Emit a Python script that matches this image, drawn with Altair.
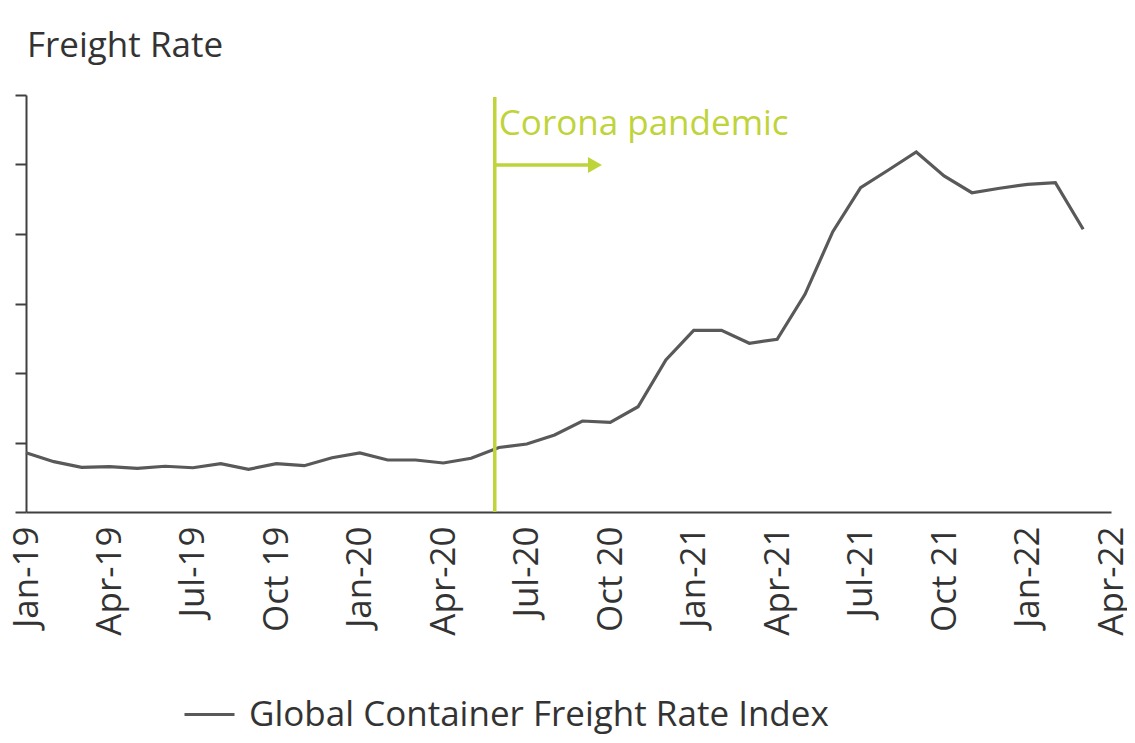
import altair as alt
import pandas as pd

# Monthly index values, Jan-2019 .. Mar-2022
months = ["2019-01", "2019-02", "2019-03", "2019-04", "2019-05", "2019-06",
          "2019-07", "2019-08", "2019-09", "2019-10", "2019-11", "2019-12",
          "2020-01", "2020-02", "2020-03", "2020-04", "2020-05", "2020-06",
          "2020-07", "2020-08", "2020-09", "2020-10", "2020-11", "2020-12",
          "2021-01", "2021-02", "2021-03", "2021-04", "2021-05", "2021-06",
          "2021-07", "2021-08", "2021-09", "2021-10", "2021-11", "2021-12",
          "2022-01", "2022-02", "2022-03"]
values = [853, 724, 643, 652, 629, 658, 637, 695, 614, 695, 666, 781,
          849, 748, 748, 705, 773, 928, 978, 1108, 1309, 1291, 1515, 2187,
          2614, 2614, 2427, 2485, 3132, 4033, 4666, 4921, 5180, 4835, 4594,
          4658, 4715, 4738, 4068]
tick_labels = ["Jan-19", "Apr-19", "Jul-19", "Oct 19", "Jan-20", "Apr-20",
               "Jul-20", "Oct 20", "Jan-21", "Apr-21", "Jul-21", "Oct 21",
               "Jan-22", "Apr-22"]
series_name = "Global Container Freight Rate Index"

# pandemic marker (month index position) and annotation
pandemic_x = [16.85]
pandemic_top = [5970]
arrow_x = [16.85]
arrow_x2 = [20.2]
arrow_y = [4993]
arrow_head_x = [20.45]
label_text = ["Corona pandemic"]
label_y = [5424]

FONT = "Open Sans"
GREEN = "#bfd33a"
LINE = "#595959"
AXIS = "#404040"

df = pd.DataFrame({
    "idx": list(range(len(values))),
    "month": months,
    "value": values,
    "series": [series_name] * len(values),
})

label_expr = "[" + ",".join("'%s'" % t for t in tick_labels) + "][round(datum.value/3)]"

x_scale = alt.Scale(domain=[0, 39], nice=False, zero=False)
y_scale = alt.Scale(domain=[0, 6000], nice=False)

line = alt.Chart(df).mark_line(strokeWidth=3.2).encode(
    x=alt.X("idx:Q", scale=x_scale,
            axis=alt.Axis(values=list(range(0, 40, 3)), labelExpr=label_expr,
                          labelAngle=-90, labelAlign="right", labelBaseline="middle",
                          labelFont=FONT, labelFontSize=35, labelColor="#333333",
                          labelPadding=14, ticks=False, grid=False, title=None,
                          domainColor=AXIS, domainWidth=2, labelOverlap=False,
                          labelFlush=False)),
    y=alt.Y("value:Q", scale=y_scale,
            axis=alt.Axis(values=list(range(0, 7000, 1000)), labels=False,
                          ticks=True, tickSize=11, tickColor=AXIS, tickWidth=2,
                          domainColor=AXIS, domainWidth=2, grid=False, title=None)),
    color=alt.Color("series:N", scale=alt.Scale(range=[LINE]),
                    legend=alt.Legend(title=None, orient="none", legendX=157, legendY=593,
                                      symbolType="stroke", symbolSize=2500,
                                      symbolStrokeWidth=3, labelFont=FONT,
                                      labelFontSize=35, labelColor="#333333",
                                      labelOffset=13, labelLimit=800)),
)

marker_df = pd.DataFrame({"x": pandemic_x, "y0": [0], "y1": pandemic_top})
marker = alt.Chart(marker_df).mark_rule(color=GREEN, strokeWidth=3.5).encode(
    x=alt.X("x:Q", scale=x_scale), y=alt.Y("y0:Q", scale=y_scale), y2="y1:Q")

arrow_df = pd.DataFrame({"x": arrow_x, "x2": arrow_x2, "y": arrow_y})
arrow = alt.Chart(arrow_df).mark_rule(color=GREEN, strokeWidth=3.5).encode(
    x=alt.X("x:Q", scale=x_scale), x2="x2:Q", y=alt.Y("y:Q", scale=y_scale))

head_df = pd.DataFrame({"x": arrow_head_x, "y": arrow_y})
head = alt.Chart(head_df).mark_point(shape="triangle-right", filled=True, size=260,
                                     color=GREEN, opacity=1).encode(
    x=alt.X("x:Q", scale=x_scale), y=alt.Y("y:Q", scale=y_scale))

text_df = pd.DataFrame({"x": pandemic_x, "y": label_y, "t": label_text})
text = alt.Chart(text_df).mark_text(align="left", baseline="alphabetic", dx=4,
                                    font=FONT, fontSize=35, color=GREEN).encode(
    x=alt.X("x:Q", scale=x_scale), y=alt.Y("y:Q", scale=y_scale), text="t:N")

chart = alt.layer(line, marker, arrow, head, text).properties(
    width=1085, height=417,
    background="white",
    title=alt.TitleParams("Freight Rate", anchor="start", frame="group",
                          font=FONT, fontSize=35, fontWeight="normal",
                          color="#333333", offset=30, dx=1),
    autosize=alt.AutoSizeParams(type="none"),
    padding={"left": 18, "top": 87, "right": 16, "bottom": 223},
).configure_view(stroke=None)

chart.save("out.html", embed_options={"renderer": "svg", "actions": False})
